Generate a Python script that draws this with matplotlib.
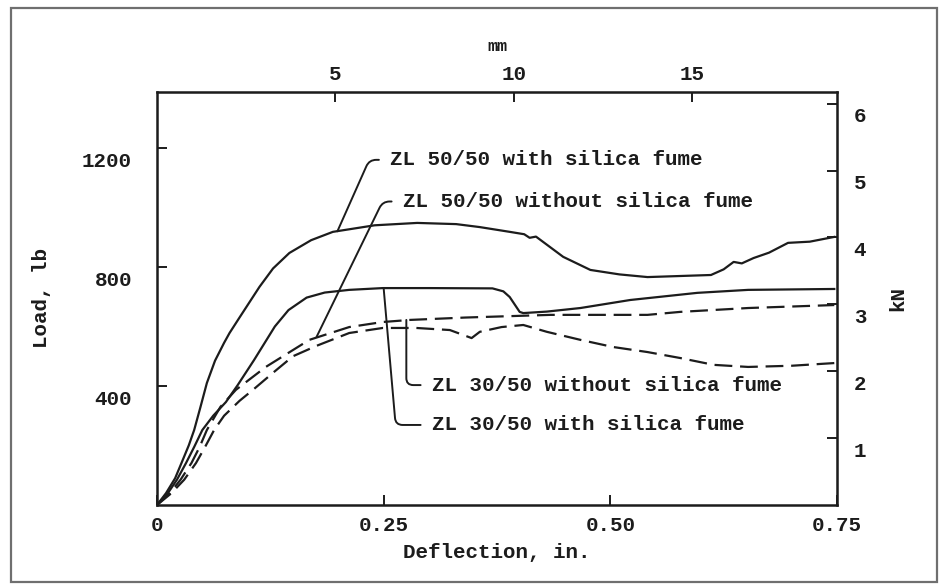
import matplotlib
matplotlib.use("Agg")
import matplotlib.pyplot as plt
from matplotlib import transforms
from matplotlib.patches import Rectangle

plt.rcParams['font.family'] = ['Liberation Mono', 'DejaVu Sans Mono']
plt.rcParams['font.size'] = 15
plt.rcParams['font.weight'] = 'bold'
plt.rcParams['axes.labelweight'] = 'bold'

INK = '#1c1c1c'

# deflection (in.) / load (lb)
x_50_sf = [0, 0.010, 0.020, 0.027, 0.035, 0.041, 0.048, 0.055, 0.064, 0.074, 0.080,
           0.091, 0.113, 0.128, 0.146, 0.170, 0.194, 0.240, 0.287, 0.330, 0.356,
           0.389, 0.405, 0.411, 0.418, 0.448, 0.478, 0.510, 0.541, 0.611, 0.625,
           0.636, 0.645, 0.658, 0.675, 0.696, 0.720, 0.747]
y_50_sf = [0, 40, 90, 141, 200, 252, 330, 410, 485, 545, 578,
           630, 733, 795, 847, 890, 918, 940, 948, 944, 934,
           918, 910, 898, 902, 834, 790, 775, 766, 773, 792,
           817, 812, 830, 848, 881, 885, 901]

x_30_sf = [0, 0.012, 0.022, 0.032, 0.041, 0.050, 0.062, 0.076, 0.089, 0.107, 0.130,
           0.145, 0.165, 0.185, 0.212, 0.249, 0.300, 0.370, 0.382, 0.389, 0.400,
           0.404, 0.430, 0.467, 0.522, 0.596, 0.652, 0.747]
y_30_sf = [0, 40, 85, 141, 195, 252, 300, 346, 403, 487, 600,
           655, 697, 714, 723, 729, 729, 728, 718, 699, 649,
           645, 650, 662, 689, 713, 723, 726]

x_30_nosf = [0, 0.014, 0.026, 0.038, 0.047, 0.055, 0.070, 0.087, 0.120, 0.168,
             0.212, 0.249, 0.279, 0.340, 0.434, 0.541, 0.577, 0.652, 0.747]
y_30_nosf = [0, 40, 85, 141, 195, 252, 330, 387, 464, 555,
             598, 615, 622, 630, 639, 639, 649, 662, 672]

x_50_nosf = [0, 0.016, 0.030, 0.043, 0.053, 0.063, 0.074, 0.091, 0.107, 0.129,
             0.150, 0.176, 0.212, 0.249, 0.286, 0.323, 0.347, 0.356, 0.380, 0.404,
             0.430, 0.467, 0.503, 0.541, 0.577, 0.614, 0.652, 0.700, 0.747]
y_50_nosf = [0, 40, 85, 141, 195, 252, 300, 350, 390, 447,
             500, 535, 578, 595, 595, 588, 561, 582, 598, 605,
             582, 555, 531, 514, 494, 471, 464, 468, 477]

labels = ['ZL 50/50 with silica fume', 'ZL 50/50 without silica fume',
          'ZL 30/50 without silica fume', 'ZL 30/50 with silica fume']

x_ticks = [0, 0.25, 0.50, 0.75]
x_ticklabels = ['0', '0.25', '0.50', '0.75']
y_ticks = [400, 800, 1200]
mm_ticks = [5, 10, 15]
kn_ticks = [1, 2, 3, 4, 5, 6]

fig = plt.figure(figsize=(9.41, 5.84), dpi=100)
fig.patch.set_facecolor('white')
fig.patches.append(Rectangle((11 / 941, 2 / 584), 926 / 941, 574 / 584,
                             transform=fig.transFigure, fill=False,
                             edgecolor='#6f6f6f', lw=1.6))

ax = fig.add_axes([157 / 941, 79 / 584, 680 / 941, 413 / 584])
dash = (0, (8, 3.5))
ax.plot(x_50_sf, y_50_sf, color=INK, lw=1.6)
ax.plot(x_30_sf, y_30_sf, color=INK, lw=1.6)
ax.plot(x_30_nosf, y_30_nosf, color=INK, lw=1.6, linestyle=dash)
ax.plot(x_50_nosf, y_50_nosf, color=INK, lw=1.6, linestyle=dash)

ax.set_xlim(0, 0.75)
ax.set_ylim(0, 1388)
ax.set_xticks(x_ticks)
ax.set_xticklabels(x_ticklabels)
ax.set_yticks(y_ticks)
ax.tick_params(direction='in', length=7, width=1.4, colors=INK, pad=8)
ax.tick_params(axis='y', pad=18)
for s in ax.spines.values():
    s.set_linewidth(1.8)
    s.set_color(INK)
ax.set_xlabel('Deflection, in.', labelpad=6, color=INK)
ax.set_ylabel('Load, lb', labelpad=22, color=INK)

top = ax.secondary_xaxis('top', functions=(lambda v: v * 25.4, lambda v: v / 25.4))
top.set_xticks(mm_ticks)
top.tick_params(direction='in', length=7, width=1.4, colors=INK, pad=6)
top.set_xlabel('mm', fontsize=12, labelpad=10, color=INK)

right = ax.secondary_yaxis('right', functions=(lambda v: v * 0.0044482, lambda v: v / 0.0044482))
right.set_yticks(kn_ticks)
right.tick_params(direction='in', length=7, width=1.4, colors=INK, pad=12)
right.set_ylabel('kN', labelpad=16, color=INK, rotation=90)

# tick labels sit a little below their ticks in the scan
shift = transforms.ScaledTranslation(0, -8 / 72, fig.dpi_scale_trans)
for lab in ax.get_yticklabels() + right.get_yticklabels():
    lab.set_transform(lab.get_transform() + shift)

# label positions (in., lb) and the points their leaders touch
text_x = [0.257, 0.271, 0.303, 0.303]
text_y = [1160, 1020, 403, 269]
tip_x = [0.199, 0.176, 0.275, 0.250]
tip_y = [920, 565, 622, 728]
angle_b = [66, 64, 90, 95]
for i in range(4):
    ax.annotate(labels[i], xy=(tip_x[i], tip_y[i]), xytext=(text_x[i], text_y[i]),
                ha='left', va='center', color=INK,
                arrowprops=dict(arrowstyle='-', color=INK, lw=1.4,
                                relpos=(0, 0.5), shrinkA=6, shrinkB=0,
                                connectionstyle='angle,angleA=0,angleB=%d,rad=7' % angle_b[i]))

fig.savefig('out.png', dpi=100)
